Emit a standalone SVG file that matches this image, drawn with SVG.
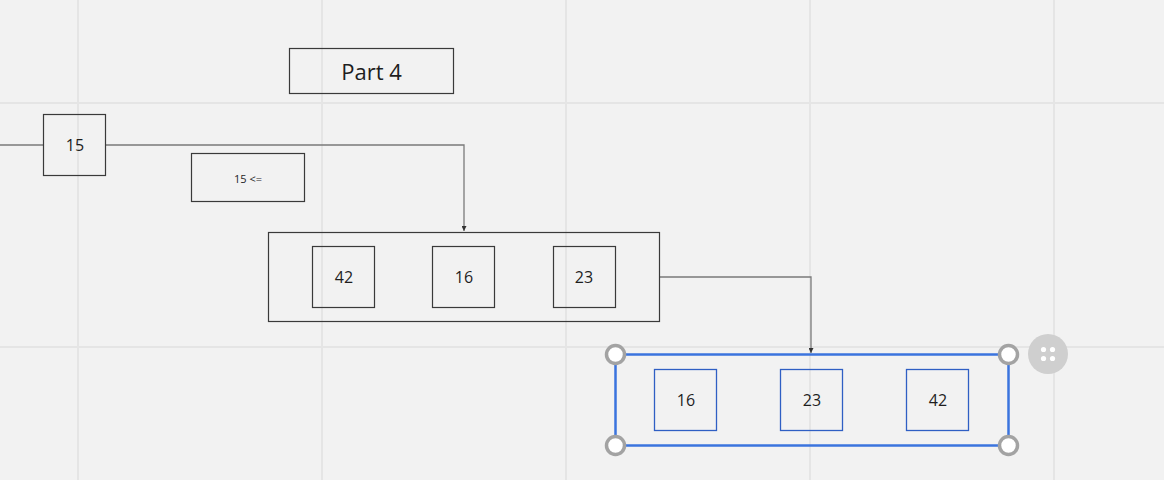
<svg xmlns="http://www.w3.org/2000/svg" width="1164" height="480" viewBox="0 0 1164 480">
<style>
.grid{stroke:#e5e5e5;stroke-width:2}
.box{fill:none;stroke:#3a3a3a;stroke-width:1.2}
.bbox{fill:none;stroke:#2f5fc4;stroke-width:1.3}
.conn{fill:none;stroke:#7a7a7a;stroke-width:1.3}
.t{font-family:"Open Sans","Noto Sans",sans-serif;fill:#1e1e1e;text-anchor:middle;dominant-baseline:central}
.h{fill:#fff;stroke:#a3a3a3;stroke-width:3.5}
</style>
<defs>
<marker id="arr" viewBox="0 0 8 8" refX="8" refY="4" markerWidth="5" markerHeight="5" orient="auto" markerUnits="userSpaceOnUse">
<path d="M0,0L8,4L0,8z" fill="#333"/>
</marker>
</defs>
<rect width="1164" height="480" fill="#f2f2f2"/>
<g id="grid">
<line class="grid" x1="78" y1="0" x2="78" y2="480"/>
<line class="grid" x1="322" y1="0" x2="322" y2="480"/>
<line class="grid" x1="566" y1="0" x2="566" y2="480"/>
<line class="grid" x1="810" y1="0" x2="810" y2="480"/>
<line class="grid" x1="1054" y1="0" x2="1054" y2="480"/>
<line class="grid" x1="0" y1="103" x2="1164" y2="103"/>
<line class="grid" x1="0" y1="347" x2="1164" y2="347"/>
</g>
<g id="connectors">
<line class="conn" x1="0" y1="145" x2="43" y2="145"/>
<path class="conn" d="M106,145H464V231" marker-end="url(#arr)"/>
<path class="conn" d="M660,277H811V353" marker-end="url(#arr)"/>
</g>
<g id="title">
<rect class="box" x="289.5" y="48.5" width="164" height="45"/>
<text class="t" x="371.5" y="71" font-size="22">Part 4</text>
</g>
<g id="n15">
<rect class="box" x="43.5" y="114.5" width="62" height="61" fill="#f2f2f2"/>
<text class="t" x="75" y="145" font-size="16">15</text>
</g>
<g id="cond">
<rect class="box" x="191.5" y="153.5" width="113" height="48"/>
<text class="t" x="248" y="178" font-size="11">15 &lt;=</text>
</g>
<g id="array1">
<rect class="box" x="268.5" y="232.5" width="391" height="89"/>
<g id="a1-42"><rect class="box" x="312.5" y="246.5" width="62" height="61"/><text class="t" x="344" y="277" font-size="16">42</text></g>
<g id="a1-16"><rect class="box" x="432.5" y="246.5" width="62" height="61"/><text class="t" x="464" y="277" font-size="16">16</text></g>
<g id="a1-23"><rect class="box" x="553.5" y="246.5" width="62" height="61"/><text class="t" x="584" y="277" font-size="16">23</text></g>
</g>
<g id="array2">
<rect x="615.5" y="354.5" width="393" height="91" fill="none" stroke="#3b74de" stroke-width="2.5"/>
<g id="a2-16"><rect class="bbox" x="654.5" y="369.5" width="62" height="61"/><text class="t" x="686" y="400" font-size="16">16</text></g>
<g id="a2-23"><rect class="bbox" x="780.5" y="369.5" width="62" height="61"/><text class="t" x="812" y="400" font-size="16">23</text></g>
<g id="a2-42"><rect class="bbox" x="906.5" y="369.5" width="62" height="61"/><text class="t" x="938" y="400" font-size="16">42</text></g>
<circle class="h" cx="615.5" cy="354.5" r="9"/>
<circle class="h" cx="1008.5" cy="354.5" r="9"/>
<circle class="h" cx="615.5" cy="445.5" r="9"/>
<circle class="h" cx="1008.5" cy="445.5" r="9"/>
<circle cx="1048" cy="354" r="20" fill="#cfcfcf"/>
<g fill="#fff"><circle cx="1043.5" cy="349.5" r="2.6"/><circle cx="1052.5" cy="349.5" r="2.6"/><circle cx="1043.5" cy="358.5" r="2.6"/><circle cx="1052.5" cy="358.5" r="2.6"/></g>
</g>
</svg>
